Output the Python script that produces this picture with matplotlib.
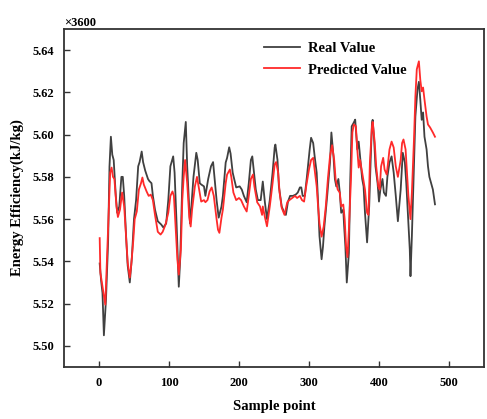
import matplotlib
matplotlib.use("Agg")
import matplotlib.pyplot as plt

real_x = [1, 3, 5, 7, 10, 13, 15, 17, 19, 21, 24, 26, 29, 32, 34, 36, 39, 41, 44, 47, 50, 53, 56, 58, 61, 63, 66, 70, 72, 75, 77, 80, 84, 89, 92, 96, 99, 102, 106, 108, 111, 113, 114, 116, 119, 121, 124, 126, 130, 132, 135, 139, 141, 144, 146, 150, 152, 156, 160, 163, 165, 168, 171, 175, 177, 181, 183, 186, 188, 191, 196, 201, 204, 207, 211, 214, 217, 219, 221, 224, 227, 231, 234, 237, 240, 244, 248, 251, 252, 255, 257, 261, 264, 267, 270, 273, 277, 281, 284, 287, 289, 291, 294, 297, 301, 303, 306, 308, 311, 313, 315, 318, 320, 322, 326, 330, 332, 335, 337, 339, 342, 344, 346, 349, 350, 352, 354, 357, 359, 361, 364, 366, 369, 371, 373, 376, 378, 380, 383, 386, 388, 390, 391, 393, 395, 398, 400, 402, 405, 407, 410, 412, 415, 418, 421, 424, 427, 431, 434, 437, 439, 441, 444, 445, 447, 450, 452, 455, 457, 459, 461, 463, 465, 468, 470, 472, 477, 480]
real_y = [5.539, 5.531, 5.525, 5.505, 5.522, 5.549, 5.585, 5.599, 5.5905, 5.588, 5.571, 5.563, 5.566, 5.580, 5.580, 5.571, 5.550, 5.538, 5.530, 5.542, 5.560, 5.569, 5.585, 5.587, 5.592, 5.587, 5.583, 5.579, 5.578, 5.577, 5.571, 5.5645, 5.559, 5.5574, 5.556, 5.558, 5.569, 5.585, 5.5897, 5.582, 5.5565, 5.538, 5.528, 5.541, 5.577, 5.596, 5.606, 5.585, 5.558, 5.566, 5.580, 5.5914, 5.588, 5.577, 5.5764, 5.5755, 5.571, 5.579, 5.585, 5.587, 5.580, 5.569, 5.5607, 5.566, 5.571, 5.5868, 5.589, 5.594, 5.591, 5.582, 5.575, 5.5755, 5.574, 5.571, 5.568, 5.577, 5.588, 5.5897, 5.5835, 5.574, 5.569, 5.569, 5.5778, 5.568, 5.560, 5.569, 5.582, 5.594, 5.5953, 5.588, 5.5755, 5.566, 5.5636, 5.562, 5.5683, 5.571, 5.571, 5.5716, 5.5726, 5.575, 5.575, 5.571, 5.571, 5.580, 5.593, 5.5985, 5.596, 5.590, 5.582, 5.568, 5.552, 5.541, 5.547, 5.5565, 5.571, 5.5868, 5.601, 5.5897, 5.579, 5.5755, 5.579, 5.5726, 5.563, 5.5645, 5.558, 5.547, 5.530, 5.544, 5.579, 5.6039, 5.6057, 5.6071, 5.593, 5.5967, 5.5897, 5.579, 5.5755, 5.563, 5.549, 5.566, 5.5868, 5.6057, 5.607, 5.598, 5.585, 5.577, 5.5683, 5.574, 5.579, 5.5726, 5.571, 5.580, 5.5868, 5.5897, 5.582, 5.571, 5.559, 5.574, 5.5914, 5.5868, 5.577, 5.5645, 5.5456, 5.533, 5.552, 5.585, 5.6086, 5.6214, 5.625, 5.6166, 5.607, 5.6105, 5.599, 5.593, 5.585, 5.580, 5.574, 5.567]

pred_x = [1, 2, 5, 7, 9, 11, 14, 16, 18, 20, 22, 25, 27, 30, 33, 36, 39, 41, 44, 46, 49, 51, 54, 57, 60, 62, 64, 68, 71, 74, 77, 80, 84, 88, 91, 95, 99, 102, 105, 107, 110, 112, 114, 117, 119, 121, 123, 126, 129, 131, 133, 137, 140, 143, 146, 150, 152, 155, 158, 161, 164, 168, 170, 172, 175, 177, 181, 183, 187, 189, 192, 196, 200, 203, 207, 211, 214, 217, 220, 222, 226, 230, 233, 234, 237, 240, 244, 248, 251, 253, 256, 258, 261, 265, 269, 272, 276, 280, 283, 287, 290, 293, 296, 300, 303, 306, 308, 311, 313, 315, 318, 321, 324, 327, 330, 333, 336, 338, 341, 344, 346, 349, 351, 353, 355, 357, 360, 362, 364, 367, 369, 371, 373, 376, 378, 380, 383, 385, 387, 390, 391, 394, 396, 399, 401, 403, 406, 408, 411, 413, 415, 418, 421, 424, 427, 431, 433, 435, 438, 440, 442, 445, 447, 450, 452, 454, 457, 459, 461, 463, 465, 468, 470, 473, 477, 480]
pred_y = [5.551, 5.5346, 5.528, 5.5233, 5.5195, 5.538, 5.5645, 5.582, 5.5844, 5.580, 5.579, 5.566, 5.561, 5.5645, 5.5726, 5.566, 5.550, 5.5394, 5.5323, 5.538, 5.550, 5.560, 5.5636, 5.574, 5.577, 5.5797, 5.5764, 5.5731, 5.571, 5.5716, 5.569, 5.562, 5.554, 5.5527, 5.554, 5.5574, 5.563, 5.571, 5.5731, 5.571, 5.5535, 5.541, 5.5337, 5.5456, 5.569, 5.580, 5.588, 5.577, 5.561, 5.5565, 5.5645, 5.5755, 5.580, 5.574, 5.5683, 5.569, 5.568, 5.569, 5.5731, 5.575, 5.571, 5.560, 5.555, 5.5535, 5.5607, 5.5645, 5.577, 5.5811, 5.5835, 5.580, 5.5726, 5.569, 5.570, 5.569, 5.566, 5.5636, 5.571, 5.579, 5.5811, 5.5755, 5.568, 5.566, 5.562, 5.566, 5.561, 5.5566, 5.566, 5.577, 5.5859, 5.587, 5.582, 5.5726, 5.5654, 5.562, 5.568, 5.569, 5.570, 5.571, 5.570, 5.571, 5.569, 5.5683, 5.5755, 5.5835, 5.588, 5.589, 5.5835, 5.5755, 5.566, 5.558, 5.5517, 5.5565, 5.566, 5.579, 5.5897, 5.595, 5.588, 5.579, 5.574, 5.5726, 5.566, 5.5669, 5.560, 5.547, 5.542, 5.555, 5.579, 5.601, 5.6048, 5.604, 5.593, 5.5844, 5.588, 5.582, 5.5778, 5.574, 5.563, 5.562, 5.5868, 5.6039, 5.606, 5.596, 5.585, 5.5755, 5.574, 5.585, 5.589, 5.5835, 5.5811, 5.5868, 5.593, 5.5967, 5.5939, 5.585, 5.580, 5.588, 5.596, 5.5977, 5.593, 5.582, 5.571, 5.560, 5.5726, 5.5977, 5.618, 5.6309, 5.6347, 5.626, 5.6205, 5.6223, 5.6166, 5.6086, 5.6048, 5.6034, 5.601, 5.599]

x_ticks = [0, 100, 200, 300, 400, 500]
y_ticks = [5.50, 5.52, 5.54, 5.56, 5.58, 5.60, 5.62, 5.64]

plt.rcParams['font.family'] = ['Liberation Serif', 'DejaVu Serif']
plt.rcParams['font.weight'] = 'bold'

fig = plt.figure(figsize=(4.87, 4.19), dpi=100)
ax = fig.add_axes([0.1314, 0.1241, 0.8624, 0.8067])

ax.plot(real_x, real_y, color='#404040', lw=1.3, label='Real Value')
ax.plot(pred_x, pred_y, color='#ff2a2a', lw=1.3, label='Predicted Value')

ax.set_xlim(-50, 550)
ax.set_ylim(5.49, 5.65)
ax.set_xticks(x_ticks)
ax.set_yticks(y_ticks)
ax.set_yticklabels([f"{v:.2f}" for v in y_ticks])
ax.tick_params(direction='in', length=4.5, width=1.0, color='#333333',
               labelsize=9, pad=7)
for lab in ax.get_xticklabels() + ax.get_yticklabels():
    lab.set_fontweight('bold')
for sp in ax.spines.values():
    sp.set_linewidth(1.3)
    sp.set_color('#333333')

ax.set_xlabel('Sample point', fontsize=10.5, fontweight='bold', labelpad=8)
ax.set_ylabel('Energy Efficiency(kJ/kg)', fontsize=10.5, fontweight='bold', labelpad=6)
ax.text(0.0, 1.0, '\u00d73600', transform=ax.transAxes, fontsize=9,
        fontweight='bold', ha='left', va='bottom')

leg = ax.legend(loc='upper left', bbox_to_anchor=(0.445, 1.0), frameon=False,
                prop={'weight': 'bold', 'size': 10.5}, handlelength=2.5,
                handletextpad=0.55, labelspacing=0.55)

fig.savefig('out.png', dpi=100)
